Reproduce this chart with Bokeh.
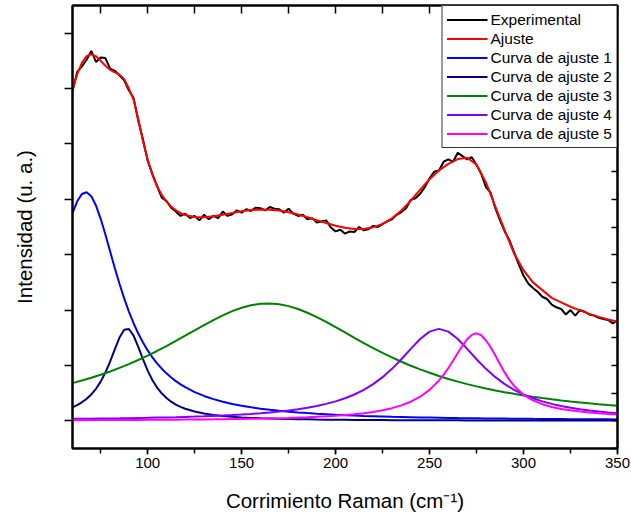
from bokeh.plotting import figure
from bokeh.models import Range1d, LinearAxis, SingleIntervalTicker, FixedTicker, Legend, LegendItem
from bokeh.embed import file_html
from bokeh.resources import INLINE

# ---------------- data ----------------
X5 = [60, 65, 70, 75, 80, 85, 90, 95, 100, 105, 110, 115, 120, 125, 130, 135, 140, 145, 150,
      155, 160, 165, 170, 175, 180, 185, 190, 195, 200, 205, 210, 215, 220, 225, 230, 235, 240,
      245, 250, 255, 260, 265, 270, 275, 280, 285, 290, 295, 300, 305, 310, 315, 320, 325, 330,
      335, 340, 345, 350]

XA = [60, 62.5, 65, 67.5, 70, 72.5, 75, 77.5, 80, 82.5, 85, 87.5, 90, 92.5, 95, 97.5, 100,
      102.5, 105, 107.5, 110, 112.5, 115, 117.5, 120, 125, 130, 135, 140, 145, 150, 155, 160,
      165, 170, 175, 180, 185, 190, 195, 200, 205, 210, 215, 220, 225, 230, 235, 240, 245, 250,
      255, 260, 265, 270, 275, 280, 285, 290, 295, 300, 305, 310, 315, 320, 325, 330, 335, 340,
      345, 350]

XC = [60, 65, 70, 75, 80, 85, 90, 95, 100, 105, 110, 115, 120, 125, 130, 135, 140, 145, 150,
      155, 160, 165, 170, 175, 180, 185, 190, 195, 200, 205, 210, 215, 220, 225, 230, 235, 240,
      245, 250, 255, 257.5, 260, 262.5, 265, 267.5, 270, 272.5, 275, 277.5, 280, 282.5, 285,
      287.5, 290, 292.5, 295, 300, 305, 310, 315, 320, 325, 330, 335, 340, 345, 350]

X_EXP = [60, 62.5, 65, 67.5, 70, 72.5, 75, 77.5, 80, 82.5, 85, 87.5, 90, 92.5, 95, 97.5, 100,
         102.5, 105, 107.5, 110, 112.5, 115, 117.5, 120, 122.5, 125, 127.5, 130, 132.5, 135,
         137.5, 140, 142.5, 145, 147.5, 150, 152.5, 155, 157.5, 160, 162.5, 165, 167.5, 170,
         172.5, 175, 177.5, 180, 182.5, 185, 187.5, 190, 192.5, 195, 197.5, 200, 202.5, 205,
         207.5, 210, 212.5, 215, 217.5, 220, 222.5, 225, 227.5, 230, 232.5, 235, 237.5, 240,
         242.5, 245, 247.5, 250, 252.5, 255, 257.5, 260, 262.5, 265, 267.5, 270, 272.5, 275,
         277.5, 280, 282.5, 285, 287.5, 290, 292.5, 295, 297.5, 300, 302.5, 305, 307.5, 310,
         312.5, 315, 317.5, 320, 322.5, 325, 327.5, 330, 332.5, 335, 337.5, 340, 342.5, 345,
         347.5, 350]

experimental = [5.95, 6.30, 6.40, 6.52, 6.68, 6.48, 6.56, 6.55, 6.36, 6.32,
                6.24, 6.15, 5.97, 5.83, 5.42, 5.08, 4.70, 4.46, 4.24, 4.03,
                3.97, 3.85, 3.78, 3.70, 3.74, 3.66, 3.70, 3.62, 3.72, 3.64,
                3.70, 3.66, 3.78, 3.70, 3.73, 3.80, 3.76, 3.82, 3.79, 3.85,
                3.84, 3.80, 3.86, 3.83, 3.82, 3.76, 3.83, 3.74, 3.70, 3.72,
                3.64, 3.66, 3.58, 3.60, 3.62, 3.49, 3.42, 3.45, 3.38, 3.42,
                3.41, 3.50, 3.44, 3.46, 3.52, 3.50, 3.55, 3.60, 3.64, 3.72,
                3.77, 3.84, 3.99, 4.02, 4.10, 4.22, 4.38, 4.50, 4.52, 4.68,
                4.72, 4.68, 4.84, 4.78, 4.72, 4.76, 4.62, 4.46, 4.22, 4.12,
                3.84, 3.62, 3.42, 3.26, 3.04, 2.82, 2.62, 2.48, 2.40, 2.33,
                2.24, 2.20, 2.10, 2.05, 2.02, 1.92, 2.00, 1.90, 2.00, 1.97,
                1.92, 1.90, 1.86, 1.84, 1.82, 1.76, 1.82]

ajuste = [5.98, 6.26, 6.466, 6.586, 6.619, 6.582, 6.501, 6.412, 6.338, 6.292, 6.252, 6.17,
          6.00, 5.80, 5.45, 5.05, 4.72, 4.44, 4.235, 4.08, 3.959, 3.868, 3.800, 3.749, 3.716,
          3.680, 3.677, 3.693, 3.722, 3.753, 3.783, 3.805, 3.815, 3.813, 3.796, 3.767, 3.726,
          3.677, 3.622, 3.571, 3.522, 3.485, 3.465, 3.465, 3.494, 3.556, 3.657, 3.798, 3.976,
          4.173, 4.364, 4.522, 4.641, 4.727, 4.751, 4.627, 4.305, 3.868, 3.437, 3.02, 2.72,
          2.50, 2.36, 2.22, 2.14, 2.06, 1.995, 1.931, 1.877, 1.830, 1.789]

curva1 = [3.750, 3.964, 4.096, 4.128, 4.055, 3.887, 3.648, 3.364, 3.061, 2.760, 2.474, 2.211,
          1.973, 1.762, 1.576, 1.413, 1.271, 1.146, 1.037, 0.941, 0.857, 0.783, 0.717, 0.659,
          0.607, 0.519, 0.449, 0.391, 0.344, 0.304, 0.271, 0.243, 0.219, 0.198, 0.180, 0.165,
          0.151, 0.139, 0.128, 0.119, 0.110, 0.102, 0.096, 0.089, 0.084, 0.079, 0.074, 0.070,
          0.066, 0.062, 0.059, 0.056, 0.053, 0.050, 0.048, 0.046, 0.044, 0.042, 0.040, 0.038,
          0.037, 0.035, 0.034, 0.032, 0.031, 0.030, 0.029, 0.028, 0.027, 0.026, 0.025]

curva2 = [0.244, 0.284, 0.334, 0.397, 0.476, 0.578, 0.707, 0.871, 1.069, 1.291, 1.503, 1.644,
          1.658, 1.539, 1.336, 1.112, 0.907, 0.737, 0.601, 0.495, 0.411, 0.345, 0.293, 0.251,
          0.218, 0.167, 0.132, 0.106, 0.088, 0.073, 0.062, 0.053, 0.046, 0.041, 0.036, 0.032,
          0.029, 0.026, 0.023, 0.021, 0.019, 0.018, 0.016, 0.015, 0.014, 0.013, 0.012, 0.011,
          0.011, 0.010, 0.009, 0.009, 0.008, 0.008, 0.007, 0.007, 0.007, 0.006, 0.006, 0.006,
          0.005, 0.005, 0.005, 0.005, 0.005, 0.004, 0.004, 0.004, 0.004, 0.004, 0.004]

curva3 = [0.680, 0.727, 0.777, 0.832, 0.891, 0.955, 1.024, 1.098, 1.177, 1.261, 1.350, 1.443,
          1.538, 1.634, 1.729, 1.820, 1.905, 1.980, 2.042, 2.087, 2.113, 2.120, 2.105, 2.071,
          2.019, 1.952, 1.872, 1.785, 1.691, 1.595, 1.499, 1.405, 1.314, 1.227, 1.145, 1.067,
          0.995, 0.928, 0.867, 0.809, 0.756, 0.708, 0.663, 0.622, 0.584, 0.549, 0.516, 0.487,
          0.459, 0.434, 0.410, 0.388, 0.368, 0.349, 0.332, 0.315, 0.300, 0.286, 0.273]

curva4 = [0.035, 0.036, 0.039, 0.041, 0.043, 0.045, 0.048, 0.051, 0.054, 0.058, 0.062, 0.066,
          0.071, 0.076, 0.082, 0.089, 0.096, 0.104, 0.114, 0.125, 0.137, 0.151, 0.168, 0.187,
          0.210, 0.236, 0.268, 0.306, 0.351, 0.407, 0.475, 0.559, 0.662, 0.788, 0.938, 1.112,
          1.300, 1.478, 1.610, 1.660, 1.610, 1.478, 1.300, 1.112, 0.938, 0.788, 0.662, 0.559,
          0.475, 0.407, 0.351, 0.306, 0.268, 0.236, 0.210, 0.187, 0.168, 0.151, 0.137]

curva5 = [0.0116, 0.0122, 0.0128, 0.0134, 0.0141, 0.0148, 0.0156, 0.0165, 0.0175, 0.0185,
          0.0196, 0.0208, 0.0222, 0.0237, 0.0253, 0.0271, 0.0291, 0.0314, 0.0339, 0.0367,
          0.0399, 0.0435, 0.0476, 0.0523, 0.0577, 0.0640, 0.0715, 0.0802, 0.0906, 0.1031,
          0.1184, 0.1372, 0.1606, 0.1902, 0.2284, 0.2784, 0.3450, 0.4353, 0.5591, 0.7285,
          0.834, 0.953, 1.085, 1.223, 1.357, 1.473, 1.552, 1.580, 1.545, 1.45, 1.33, 1.18,
          1.02, 0.87, 0.74, 0.63, 0.47, 0.37, 0.30, 0.25, 0.215, 0.19, 0.17, 0.152, 0.138,
          0.125, 0.113]

legend_labels = ["Experimental", "Ajuste", "Curva de ajuste 1", "Curva de ajuste 2",
                 "Curva de ajuste 3", "Curva de ajuste 4", "Curva de ajuste 5"]

# tick positions (no labels on the y axis, top or right)
y_long_ticks = [0, 1, 2, 3, 4, 5, 6, 7]
y_short_ticks = [-0.5, 0.5, 1.5, 2.5, 3.5, 4.5, 5.5, 6.5, 7.5]
y_right_ticks = [-0.5, 0, 0.5, 1, 1.5, 2, 2.5, 3, 3.5, 4, 4.5, 5, 5.5, 6, 6.5, 7, 7.5]
x_top_ticks = [75, 100, 125, 150, 175, 200, 225, 250, 275, 300, 325, 350]

# ---------------- figure ----------------
FONT = "Liberation Sans"

p = figure(width=631, height=520, x_range=Range1d(60, 350), y_range=Range1d(-0.5, 7.5),
           output_backend="svg", toolbar_location=None,
           min_border_left=72, min_border_right=14, min_border_top=5, min_border_bottom=72,
           x_axis_label="Corrimiento Raman (cm\u207b\u00b9)", y_axis_label="Intensidad (u. a.)")
p.grid.visible = False
p.outline_line_color = "black"
p.outline_line_width = 2
p.background_fill_color = "white"
p.border_fill_color = "white"

xa = p.xaxis[0]
xa.ticker = SingleIntervalTicker(interval=50, num_minor_ticks=2)
xa.axis_line_width = 2
xa.major_tick_line_width = 1.5
xa.minor_tick_line_width = 1.5
xa.major_tick_out = 6
xa.major_tick_in = 0
xa.minor_tick_out = 5
xa.minor_tick_in = 0
xa.major_label_text_font = FONT
xa.major_label_text_font_size = "15px"
xa.major_label_text_color = "black"
xa.major_label_standoff = 3
xa.axis_label_text_font = FONT
xa.axis_label_text_font_size = "20.5px"
xa.axis_label_text_font_style = "normal"
xa.axis_label_text_color = "black"
xa.axis_label_standoff = 18

ya = p.yaxis[0]
ya.ticker = FixedTicker(ticks=[], minor_ticks=y_long_ticks)
ya.axis_line_width = 2
ya.minor_tick_line_width = 1.5
ya.minor_tick_out = 8
ya.minor_tick_in = 0
ya.major_label_standoff = 0
ya.axis_label_text_font = FONT
ya.axis_label_text_font_size = "20.5px"
ya.axis_label_text_font_style = "normal"
ya.axis_label_text_color = "black"
ya.axis_label_standoff = 29

ya2 = LinearAxis(ticker=FixedTicker(ticks=[], minor_ticks=y_short_ticks), fixed_location=60)
ya2.axis_line_color = None
ya2.minor_tick_line_width = 1.5
ya2.minor_tick_out = 3
ya2.minor_tick_in = 0
ya2.major_label_standoff = 0
p.add_layout(ya2, "left")

ra = LinearAxis(ticker=FixedTicker(ticks=[], minor_ticks=y_right_ticks))
ra.axis_line_width = 2
ra.minor_tick_line_width = 1.5
ra.minor_tick_in = 6
ra.minor_tick_out = 0
ra.major_label_standoff = 0
p.add_layout(ra, "right")

ta = LinearAxis(ticker=FixedTicker(ticks=[], minor_ticks=x_top_ticks))
ta.axis_line_width = 2
ta.minor_tick_line_width = 1.5
ta.minor_tick_in = 8
ta.minor_tick_out = 0
ta.major_label_standoff = 0
p.add_layout(ta, "above")

LW = 2
r_exp = p.line(X_EXP, experimental, line_color="#000000", line_width=LW)
r_fit = p.line(XA, ajuste, line_color="#FF0000", line_width=LW)
r_c1 = p.line(XA, curva1, line_color="#0000FF", line_width=LW)
r_c2 = p.line(XA, curva2, line_color="#000080", line_width=LW)
r_c3 = p.line(X5, curva3, line_color="#008000", line_width=LW)
r_c4 = p.line(X5, curva4, line_color="#8000FF", line_width=LW)
r_c5 = p.line(XC, curva5, line_color="#FF00FF", line_width=LW)

renderers = [r_exp, r_fit, r_c1, r_c2, r_c3, r_c4, r_c5]
items = [LegendItem(label=lab, renderers=[r]) for lab, r in zip(legend_labels, renderers)]
legend = Legend(items=items, location="top_right", margin=0, padding=4, spacing=0,
                label_height=19, glyph_height=19, glyph_width=41, label_standoff=3,
                label_text_font=FONT, label_text_font_size="15.5px", label_text_color="black",
                border_line_color="black", border_line_width=1, border_line_alpha=0.8,
                background_fill_color="white", background_fill_alpha=1)
p.add_layout(legend)

open("out.html", "w").write(file_html(p, INLINE))
